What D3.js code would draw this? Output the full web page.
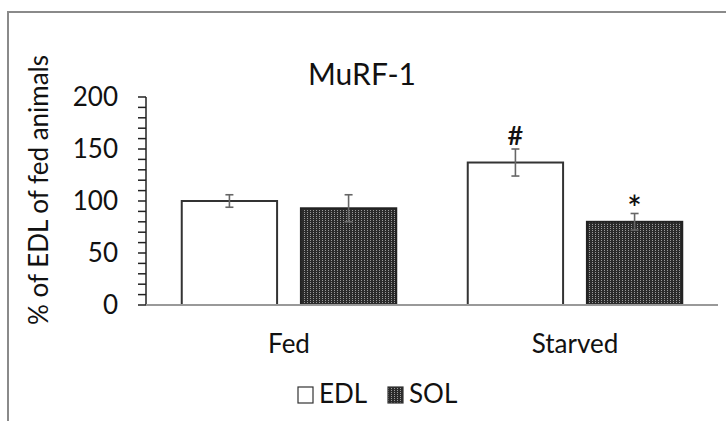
<!DOCTYPE html>
<html><head><meta charset="utf-8">
<script src="https://cdn.jsdelivr.net/npm/d3@7"></script>
<style>body{margin:0;background:#fff}svg{display:block}text{font-family:Lato,"Open Sans",sans-serif;fill:#111}</style>
</head><body><svg id="c" width="726" height="421"></svg>
<script>
const categories = ["Fed", "Starved"];
const series = ["EDL", "SOL"];
const edlValues = [100, 137];
const solValues = [93, 80];
const edlErrors = [6, 13];
const solErrors = [13, 8];
const edlMarks = ["", "#"];
const solMarks = ["", "*"];
const yTicks = [0, 50, 100, 150, 200];
const title = "MuRF-1";
const yLabel = "% of EDL of fed animals";

const svg = d3.select("#c");
const defs = svg.append("defs");
const pat = defs.append("pattern").attr("id","dots").attr("patternUnits","userSpaceOnUse").attr("width",3).attr("height",2);
pat.append("rect").attr("width",3).attr("height",2).attr("fill","#2b2b2b");
pat.append("rect").attr("x",1).attr("y",0).attr("width",1).attr("height",1).attr("fill","#9a9a9a");

// frame
svg.append("path").attr("d","M8,421 V12 H726").attr("fill","none").attr("stroke","#8a8a8a").attr("stroke-width",2);

const y = d3.scaleLinear().domain([0,200]).range([305,97]);
const x0 = d3.scaleBand().domain(categories).range([146,718]);
const x1 = d3.scaleBand().domain(series).range([0,x0.bandwidth()]).paddingInner(0.2).paddingOuter(0.3);

// minor ticks
const minor = d3.range(0,201,10);
svg.append("g").selectAll("line").data(minor).join("line")
  .attr("x1",138).attr("x2",146).attr("y1",d=>y(d)).attr("y2",d=>y(d))
  .attr("stroke","#222").attr("stroke-width",1.5);

svg.append("g").selectAll("text").data(yTicks).join("text")
  .attr("x",118).attr("y",d=>y(d)+9).attr("text-anchor","end").attr("font-size",26).text(d=>d);

const rows = categories.map((c,i)=>[
  {c, s:"EDL", v:edlValues[i], e:edlErrors[i], m:edlMarks[i]},
  {c, s:"SOL", v:solValues[i], e:solErrors[i], m:solMarks[i]}
]).flat();

const bx = d => x0(d.c)+x1(d.s);
svg.append("g").selectAll("rect").data(rows).join("rect")
  .attr("x",d=>bx(d)).attr("y",d=>y(d.v)).attr("width",x1.bandwidth()).attr("height",d=>y(0)-y(d.v))
  .attr("fill",d=>d.s==="EDL"?"#fff":"url(#dots)")
  .attr("stroke",d=>d.s==="EDL"?"#333":"#222").attr("stroke-width",2);

const eb = svg.append("g").attr("stroke","#666").attr("stroke-width",1.6);
rows.forEach(d=>{
  const cx = bx(d)+x1.bandwidth()/2;
  eb.append("line").attr("x1",cx).attr("x2",cx).attr("y1",y(d.v+d.e)).attr("y2",y(d.v-d.e));
  [d.v+d.e,d.v-d.e].forEach(v=>eb.append("line").attr("x1",cx-4).attr("x2",cx+4).attr("y1",y(v)).attr("y2",y(v)));
  if(d.m) svg.append("text").attr("x",cx).attr("y",y(d.v+d.e)-(d.m==="*"?-8:4)).attr("text-anchor","middle")
    .attr("font-size",d.m==="*"?34:27).attr("font-weight",600).text(d.m);
});

// axes lines
svg.append("line").attr("x1",146).attr("x2",146).attr("y1",97).attr("y2",305).attr("stroke","#222").attr("stroke-width",1.5);
svg.append("line").attr("x1",146).attr("x2",718).attr("y1",305).attr("y2",305).attr("stroke","#999").attr("stroke-width",2);

svg.append("g").selectAll("text").data(categories).join("text")
  .attr("x",d=>x0(d)+x0.bandwidth()/2).attr("y",353).attr("text-anchor","middle").attr("font-size",26).text(d=>d);

svg.append("text").attr("x",362).attr("y",85).attr("text-anchor","middle").attr("font-size",30).text(title);
svg.append("text").attr("transform","translate(48,190) rotate(-90)").attr("text-anchor","middle").attr("font-size",26).text(yLabel);

// legend
const lg = svg.append("g");
const legendX = [298, 388];
series.forEach((s,i)=>{
  lg.append("rect").attr("x",legendX[i]).attr("y",387).attr("width",15).attr("height",16)
    .attr("fill",i?"url(#dots)":"#fff").attr("stroke","#333").attr("stroke-width",1.2);
  lg.append("text").attr("x",legendX[i]+21).attr("y",403).attr("font-size",26).text(s);
});
</script></body></html>
